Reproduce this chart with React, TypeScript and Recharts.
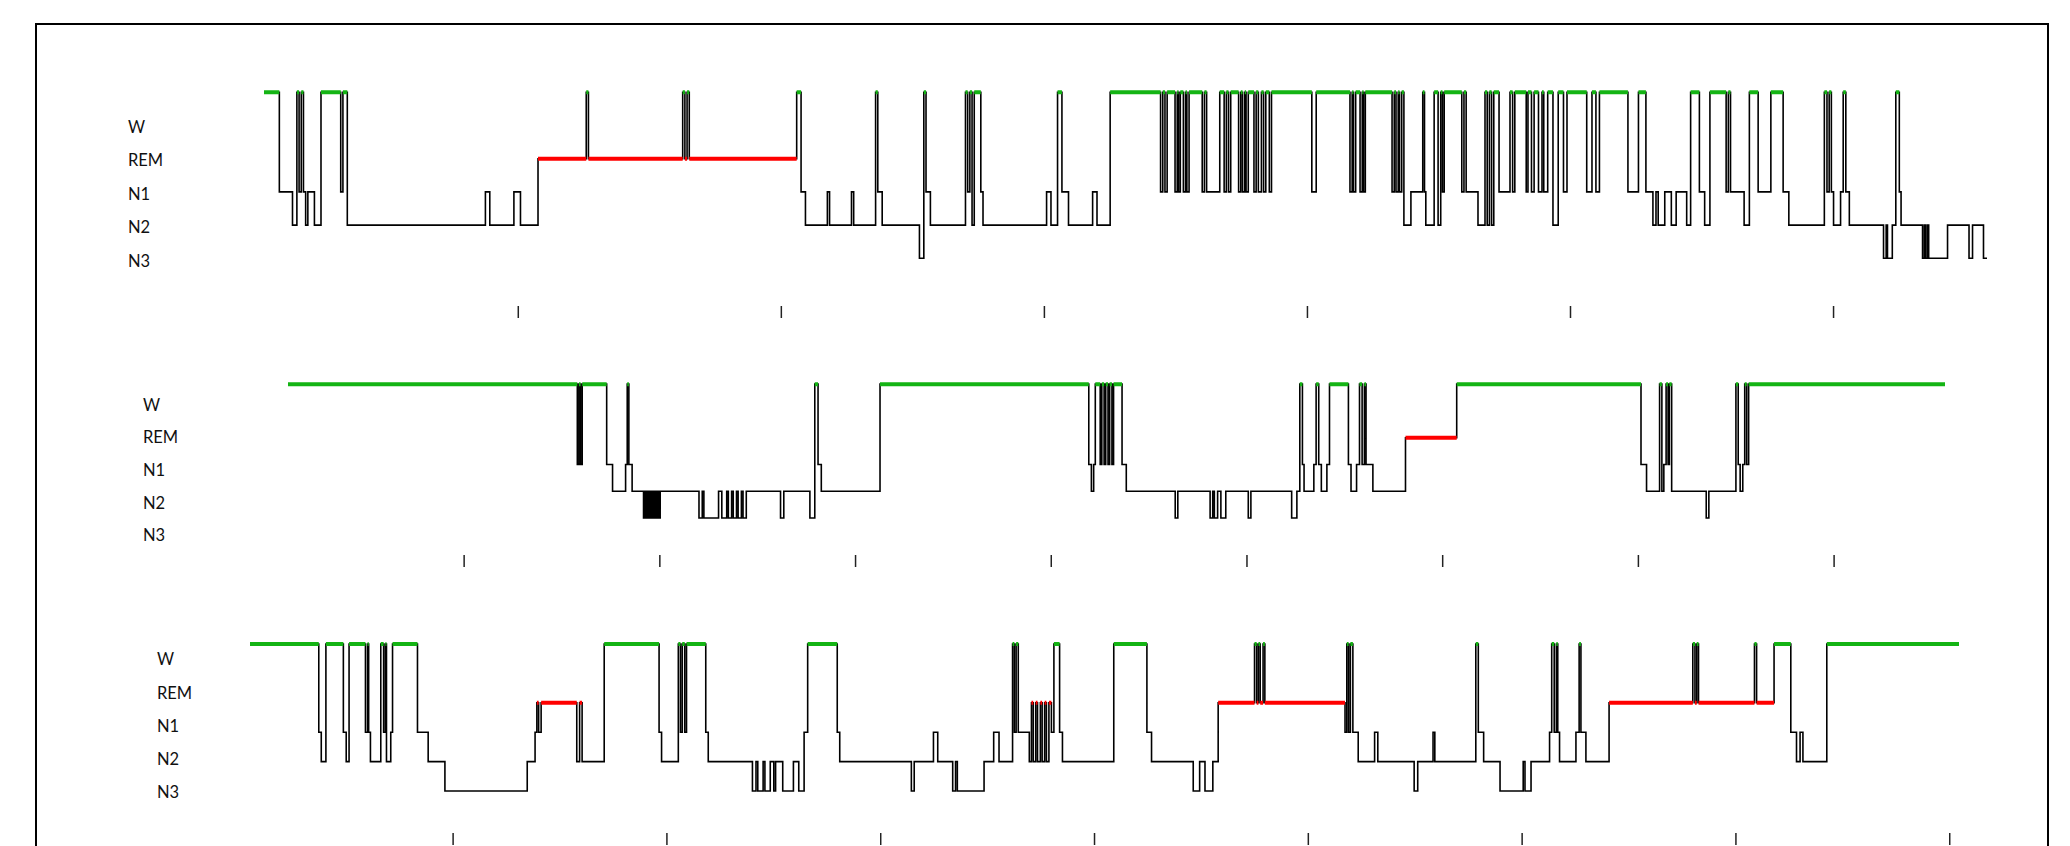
import { LineChart, Line, XAxis, YAxis } from 'recharts'

type Stage = 'W' | 'REM' | 'N1' | 'N2' | 'N3'

// y labels, bottom to top
const stageLabels = ['N3', 'N2', 'N1', 'REM', 'W']
// plotted level of each stage (W sits one step above its label)
const stageLevel: Record<Stage, number> = { N3: 0, N2: 1, N1: 2, REM: 3, W: 5 }

// [start minute, stage]
const night1: [number, Stage][] = [
  [0, 'W'], [3.5, 'N1'], [6.5, 'N2'], [7.5, 'W'], [8, 'N1'], [8.5, 'W'], [9, 'N1'], [9.5, 'N2'],
  [10, 'N1'], [11.5, 'N2'], [13, 'W'], [17.5, 'N1'], [18, 'W'], [19, 'N2'], [50.5, 'N1'], [51.5, 'N2'],
  [57, 'N1'], [58.5, 'N2'], [62.5, 'REM'], [73.5, 'W'], [74, 'REM'], [95.5, 'W'], [96, 'REM'],
  [96.5, 'W'], [97, 'REM'], [121.5, 'W'], [122.5, 'N1'], [123.5, 'N2'], [128.5, 'N1'], [129, 'N2'],
  [134, 'N1'], [134.5, 'N2'], [139.5, 'W'], [140, 'N1'], [141, 'N2'], [149.5, 'N3'], [150.5, 'W'],
  [151, 'N1'], [152, 'N2'], [160, 'W'], [160.5, 'N1'], [161, 'W'], [161.5, 'N2'], [162, 'W'],
  [163.5, 'N1'], [164, 'N2'], [178.5, 'N1'], [179.5, 'N2'], [181, 'W'], [182, 'N1'], [183.5, 'N2'],
  [189, 'N1'], [190, 'N2'], [193, 'W'],
  [204.5, 'N1'], [205, 'W'], [205.5, 'N1'], [206, 'W'], [207.8, 'N1'], [208.3, 'W'], [208.6, 'N1'],
  [209, 'W'], [209.7, 'N1'], [210.2, 'W'], [210.5, 'N1'], [211, 'W'], [214, 'N1'], [214.5, 'W'],
  [215, 'N1'], [218, 'W'], [219, 'N1'], [219.5, 'W'], [220, 'N1'], [220.5, 'W'], [222.3, 'N1'],
  [222.8, 'W'], [223.2, 'N1'], [223.7, 'W'], [224, 'N1'], [224.5, 'W'], [225.8, 'N1'], [226.3, 'W'],
  [226.8, 'N1'], [227.5, 'W'], [228, 'N1'], [228.5, 'W'], [229.3, 'N1'], [229.8, 'W'], [239, 'N1'],
  [240, 'W'], [247.7, 'N1'], [248.2, 'W'], [248.5, 'N1'], [249, 'W'], [250, 'N1'], [250.5, 'W'],
  [250.8, 'N1'], [251.2, 'W'], [257.3, 'N1'], [257.8, 'W'], [258.2, 'N1'], [258.7, 'W'], [259, 'N1'],
  [259.5, 'W'], [260, 'N2'], [261.6, 'N1'], [264.3, 'W'], [264.7, 'N1'], [265, 'N2'], [266.9, 'W'],
  [267.8, 'N2'], [268.4, 'W'], [268.8, 'N1'], [269.2, 'W'], [273.2, 'N1'], [273.7, 'W'], [274.2, 'N1'],
  [276.9, 'N2'], [278.5, 'W'], [279, 'N2'], [279.5, 'W'], [280, 'N2'], [280.5, 'W'], [281.7, 'N1'],
  [284.2, 'W'], [284.8, 'N1'], [285.3, 'W'], [287.9, 'N1'], [288.3, 'W'], [289.1, 'N1'], [289.7, 'W'],
  [290.7, 'N1'], [291.5, 'W'], [291.9, 'N1'], [292.8, 'W'], [294, 'N2'], [295.2, 'W'], [296.4, 'N1'],
  [297.2, 'W'], [301.7, 'N1'], [302.9, 'W'], [303.8, 'N1'], [304.6, 'W'], [311.1, 'N1'], [313.5, 'W'],
  [315.2, 'N1'], [316.8, 'N2'], [317.5, 'N1'], [318, 'N2'], [319.5, 'N1'], [321, 'N2'], [322.1, 'N1'],
  [324.5, 'N2'], [325.4, 'W'], [327.4, 'N1'], [328.6, 'N2'], [329.8, 'W'], [333.5, 'N1'], [334, 'W'],
  [334.5, 'N1'], [337.6, 'N2'], [338.8, 'W'], [340.8, 'N1'], [343.7, 'W'], [346.5, 'N1'], [347.8, 'N2'],
  [355.9, 'W'], [356.5, 'N1'], [357, 'W'], [357.5, 'N1'], [358, 'N2'], [359.6, 'N1'], [360.2, 'W'],
  [360.8, 'N1'], [361.6, 'N2'], [369.4, 'N3'], [370, 'N2'], [370.3, 'N3'], [371.4, 'N2'], [372.2, 'W'],
  [373, 'N1'], [373.4, 'N2'], [378.3, 'N3'], [378.7, 'N2'], [379, 'N3'], [379.4, 'N2'], [379.7, 'N3'],
  [384, 'N2'], [388.9, 'N3'], [389.7, 'N2'], [392.2, 'N3'],
]
const night1End = 393
const night1Ticks = [58, 118, 178, 238, 298, 358]

const night2: [number, Stage][] = [
  [0, 'W'], [88.7, 'N1'], [89.2, 'W'], [89.7, 'N1'], [90.2, 'W'], [97.7, 'N1'], [99.5, 'N2'],
  [103.5, 'N1'], [104, 'W'], [104.5, 'N1'], [105.5, 'N2'],
  [109, 'N3'], [109.3, 'N2'], [109.6, 'N3'], [109.9, 'N2'], [110.2, 'N3'], [110.5, 'N2'], [110.8, 'N3'],
  [111.1, 'N2'], [111.4, 'N3'], [111.7, 'N2'], [112, 'N3'], [112.3, 'N2'], [112.6, 'N3'], [112.9, 'N2'],
  [113.2, 'N3'], [113.5, 'N2'], [113.8, 'N3'], [114.1, 'N2'],
  [126, 'N3'], [127, 'N2'],
  [127.5, 'N3'], [132, 'N2'], [133, 'N3'], [134.5, 'N2'], [135, 'N3'], [136, 'N2'], [136.5, 'N3'],
  [137.5, 'N2'], [138, 'N3'], [139, 'N2'], [139.5, 'N3'], [140.5, 'N2'], [151, 'N3'], [152, 'N2'],
  [160, 'N3'], [161.5, 'W'], [162.5, 'N1'], [163.5, 'N2'], [181.5, 'W'],
  [245.5, 'N1'], [246.3, 'N2'], [247, 'N1'], [247.5, 'W'], [249, 'N1'], [249.5, 'W'], [250.2, 'N1'],
  [250.7, 'W'], [251.4, 'N1'], [251.9, 'W'], [252.6, 'N1'], [253.1, 'W'], [255.7, 'N1'], [257, 'N2'],
  [272, 'N3'], [272.8, 'N2'], [282.7, 'N3'],
  [283.5, 'N2'], [284, 'N3'], [285, 'N2'], [286, 'N3'], [287.5, 'N2'], [294.4, 'N3'], [295.2, 'N2'],
  [307.7, 'N3'], [309.3, 'N2'], [310.2, 'W'], [311, 'N1'], [311.5, 'N2'], [314.5, 'N1'], [315.2, 'W'],
  [316, 'N1'], [316.8, 'N2'], [318.5, 'N1'], [319.3, 'W'], [325.1, 'N1'], [325.9, 'N2'], [327.6, 'N1'],
  [328.5, 'W'], [329.3, 'N1'], [330, 'W'], [330.5, 'N1'], [332.6, 'N2'], [342.6, 'REM'], [358.3, 'W'],
  [414.8, 'N1'], [416.5, 'N2'], [420.5, 'W'], [421.2, 'N2'], [421.8, 'N1'], [422.5, 'W'], [423.1, 'N1'],
  [423.5, 'W'], [424.2, 'N2'], [434.8, 'N3'], [435.6, 'N2'], [443.9, 'W'], [444.6, 'N1'], [445.2, 'N2'],
  [446, 'N1'], [446.6, 'W'], [447.2, 'N1'], [447.8, 'W'],
]
const night2End = 508
const night2Ticks = [54, 114, 174, 234, 294, 354, 414, 474]

const night3: [number, Stage][] = [
  [0, 'W'], [19.3, 'N1'], [20, 'N2'], [21.3, 'W'], [26.2, 'N1'], [27, 'N2'], [27.8, 'W'], [32.4, 'N1'],
  [33, 'W'], [33.3, 'N1'], [33.8, 'N2'], [36.7, 'W'], [37.5, 'N1'], [38, 'W'], [38.3, 'N2'],
  [39.5, 'N1'], [40, 'W'], [47, 'N1'], [50, 'N2'], [54.7, 'N3'], [77.8, 'N2'], [80, 'N1'],
  [80.5, 'REM'], [81, 'N1'], [81.7, 'REM'], [91.7, 'N2'], [92.5, 'REM'], [93.2, 'N2'], [99.4, 'W'],
  [114.8, 'N1'], [115.5, 'N2'], [120.2, 'W'], [120.8, 'N1'], [121.3, 'W'], [122, 'N1'], [122.5, 'W'],
  [127.9, 'N1'], [128.6, 'N2'], [141, 'N3'], [142, 'N2'], [142.5, 'N3'], [144, 'N2'], [144.5, 'N3'],
  [146, 'N2'], [147, 'N3'], [147.5, 'N2'], [149.5, 'N3'], [152.5, 'N2'], [154, 'N3'], [155.5, 'N1'],
  [156.5, 'W'], [164.8, 'N1'], [165.5, 'N2'], [185.6, 'N3'], [186.4, 'N2'], [191.8, 'N1'], [193, 'N2'],
  [197.2, 'N3'], [198, 'N2'], [198.5, 'N3'], [206, 'N2'], [208.7, 'N1'], [210.2, 'N2'], [214, 'W'],
  [214.5, 'N1'], [215, 'W'], [215.6, 'N1'], [218.7, 'N2'], [219.3, 'REM'], [219.8, 'N2'],
  [220.5, 'REM'], [221, 'N2'], [221.8, 'REM'], [222.3, 'N2'], [223, 'REM'], [223.5, 'N2'],
  [224.2, 'REM'], [224.9, 'N1'], [225.6, 'W'], [227.2, 'N1'], [228, 'N2'], [242.4, 'W'], [251.7, 'N1'],
  [253, 'N2'], [264.7, 'N3'], [266.5, 'N2'], [268, 'N3'], [270.2, 'N2'], [271.7, 'REM'], [281.9, 'W'],
  [282.5, 'REM'], [283, 'W'], [283.5, 'REM'], [284.3, 'W'], [284.8, 'REM'], [307.3, 'N1'], [307.8, 'W'],
  [308.3, 'N1'], [308.8, 'W'], [309.5, 'N1'], [311, 'N2'], [315.6, 'N1'], [316.5, 'N2'], [326.7, 'N3'],
  [327.7, 'N2'], [332, 'N1'], [332.5, 'N2'], [344, 'W'], [344.7, 'N1'], [346.2, 'N2'], [350.8, 'N3'],
  [357.3, 'N2'], [357.8, 'N3'], [359.5, 'N2'], [364.7, 'N1'], [365.3, 'W'], [366, 'N1'], [366.6, 'W'],
  [367, 'N1'], [367.5, 'N2'], [372.1, 'N1'], [373, 'W'], [373.5, 'N1'], [374.9, 'N2'], [381.4, 'REM'],
  [404.9, 'W'], [405.5, 'REM'], [406, 'W'], [406.5, 'REM'], [422.2, 'W'], [422.8, 'REM'], [427.7, 'W'],
  [432.4, 'N1'], [434, 'N2'], [435, 'N1'], [435.8, 'N2'], [442.5, 'W'],
]
const night3End = 479.6
const night3Ticks = [57, 117, 177, 237, 297, 357, 417, 477]

// layout of each panel on the page
const panels = [
  {
    runs: night1, end: night1End, ticks: night1Ticks,
    top: 0, height: 330, margin: { top: 75.7, right: 83, bottom: 4, left: 164 },
    levelDomain: [-1.437, 5.5], labelDomain: [-1.343, 5.53], labelX: 128,
  },
  {
    runs: night2, end: night2End, ticks: night2Ticks,
    top: 330, height: 250, margin: { top: 40.75, right: 125, bottom: 5, left: 188 },
    levelDomain: [-1.382, 5.5], labelDomain: [-0.595, 5.037], labelX: 143,
  },
  {
    runs: night3, end: night3End, ticks: night3Ticks,
    top: 580, height: 280, margin: { top: 49.3, right: 111, bottom: 7, left: 150 },
    levelDomain: [-1.4286, 5.5], labelDomain: [-1.216, 4.901], labelX: 157,
  },
]

function buildRows(runs: [number, Stage][], end: number) {
  const rows: { t: number; stage: number; w: number | null; rem: number | null }[] = []
  runs.forEach(([t, s], i) => {
    const next = i + 1 < runs.length ? runs[i + 1][0] : end
    const v = stageLevel[s]
    for (const x of [t, next]) {
      rows.push({ t: x, stage: v, w: s === 'W' ? v : null, rem: s === 'REM' ? v : null })
    }
  })
  return rows
}

function Hypnogram({ p }: { p: (typeof panels)[number] }) {
  const rows = buildRows(p.runs, p.end)
  const xAxisHeight = 20
  return (
    <div style={{ position: 'absolute', left: 0, top: p.top }}>
      <LineChart width={2070} height={p.height} data={rows} margin={p.margin}>
        <XAxis
          dataKey="t"
          type="number"
          domain={[0, p.end]}
          ticks={p.ticks}
          interval={0}
          height={xAxisHeight}
          axisLine={false}
          tickSize={12}
          tickLine={{ stroke: '#222', strokeWidth: 1.5 }}
          tickFormatter={() => ''}
          allowDataOverflow
        />
        <YAxis yAxisId="lv" type="number" domain={p.levelDomain} hide allowDataOverflow />
        <YAxis
          yAxisId="lab"
          type="number"
          domain={p.labelDomain}
          ticks={[0, 1, 2, 3, 4]}
          interval={0}
          width={100}
          axisLine={false}
          tickLine={false}
          allowDataOverflow
          tick={(props: any) => (
            <text
              x={p.labelX}
              y={props.y}
              dy="0.36em"
              textAnchor="start"
              fontFamily="Lato, 'Open Sans', sans-serif"
              fontSize={16.5}
              fill="#111"
            >
              {stageLabels[props.payload.value]}
            </text>
          )}
        />
        <Line yAxisId="lv" dataKey="stage" type="linear" stroke="#000" strokeWidth={1.6} dot={false} isAnimationActive={false} />
        <Line yAxisId="lv" dataKey="w" type="linear" stroke="#14b414" strokeWidth={4} dot={false} isAnimationActive={false} />
        <Line yAxisId="lv" dataKey="rem" type="linear" stroke="#ff0000" strokeWidth={4} dot={false} isAnimationActive={false} />
      </LineChart>
    </div>
  )
}

export default function App() {
  return (
    <div
      style={{
        position: 'absolute',
        left: 0,
        top: 0,
        width: 2070,
        height: 846,
        overflow: 'hidden',
        background: '#fff',
      }}
    >
      {panels.map((p, i) => (
        <Hypnogram key={i} p={p} />
      ))}
      <div
        style={{
          position: 'absolute',
          left: 35,
          top: 23,
          width: 2014,
          height: 900,
          border: '2px solid #000',
          boxSizing: 'border-box',
        }}
      />
    </div>
  )
}
